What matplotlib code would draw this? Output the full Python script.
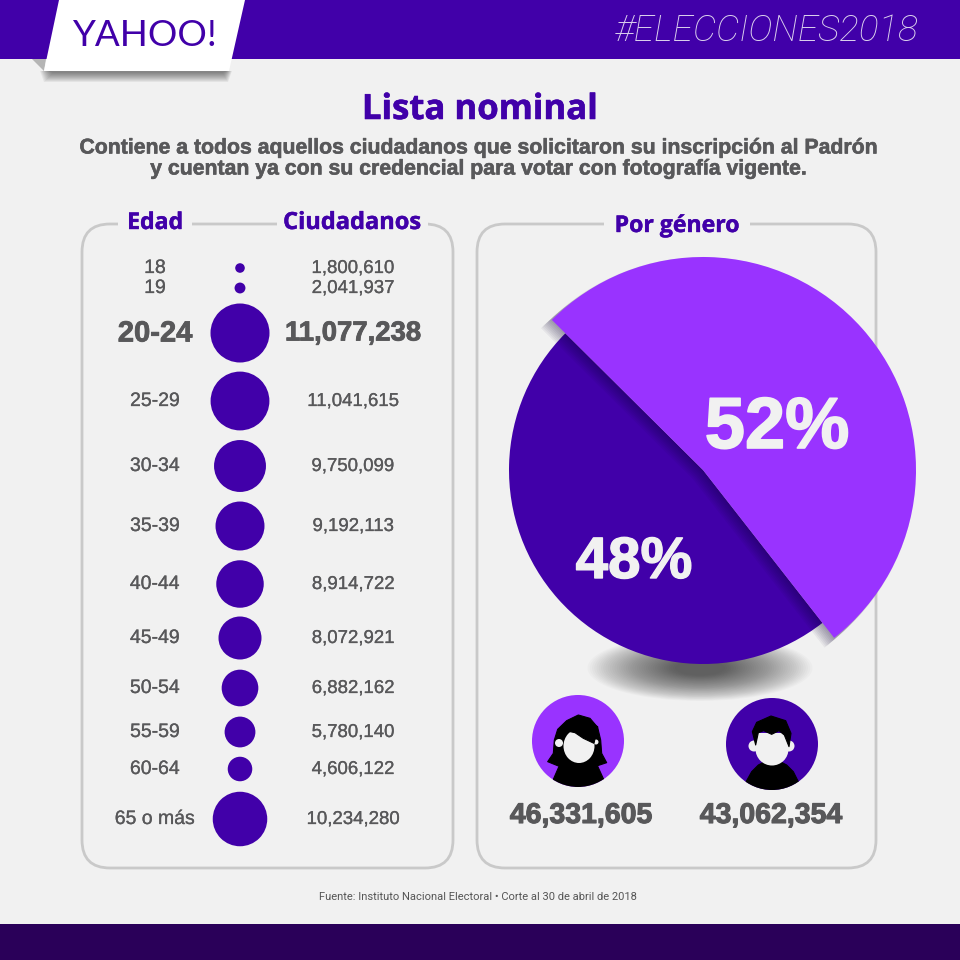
from matplotlib import pyplot as plt
from matplotlib import patheffects as pe
from matplotlib.patches import Circle, Ellipse, FancyBboxPatch, Polygon, Rectangle, Wedge
import math

PURPLE = '#4100a9'
LILAC = '#9933ff'
GRAY = '#58585a'
BG = '#f1f1f1'
SANS = 'Liberation Sans'

# data
edades = ['18', '19', '20-24', '25-29', '30-34', '35-39', '40-44', '45-49',
          '50-54', '55-59', '60-64', '65 o más']
ciudadanos = [1800610, 2041937, 11077238, 11041615, 9750099, 9192113, 8914722,
              8072921, 6882162, 5780140, 4606122, 10234280]
genero_labels = ['52%', '48%']
genero_pct = [52, 48]
genero_total = [46331605, 43062354]

fila_y = [268, 288, 333, 401, 466, 526, 584, 638, 688, 732, 769, 819]

fig = plt.figure(figsize=(9.6, 9.6), dpi=100, facecolor=BG)
ax = fig.add_axes([0, 0, 1, 1])
ax.set_xlim(0, 960)
ax.set_ylim(960, 0)
ax.axis('off')


def texto(x, y, s, size, color=GRAY, weight='bold', ha='center', grueso=0, **kw):
    kw.setdefault('family', SANS)
    t = ax.text(x, y, s, fontsize=size, color=color, fontweight=weight,
                ha=ha, va='center', **kw)
    if grueso:
        t.set_path_effects([pe.withStroke(linewidth=grueso, foreground=color)])
    return t


def sombra(cx, cy, w, h, pasos=40, alpha=0.02, z=1):
    for i in range(pasos):
        k = 1 - i / pasos * 0.8
        ax.add_patch(Ellipse((cx, cy), w * k, h * k, fc='black', ec='none', alpha=alpha, zorder=z))


def icono(puntos, x0=525, y0=690, **kw):
    # outlines were traced on a 3x crop of the icons
    pts = [(x0 + a / 3, y0 + b / 3) for a, b in puntos]
    p = Polygon(pts, fc='black', ec='black', lw=0.8, joinstyle='round', **kw)
    ax.add_patch(p)
    return p


# header and footer
for i in range(10):
    ax.add_patch(Polygon([(40 + i, 71), (232 - i * 0.6, 71), (228 - i * 0.6, 82 - i), (44 + i, 82 - i)],
                         fc='black', ec='none', alpha=0.055, zorder=1))
ax.add_patch(Rectangle((0, 0), 960, 59, fc=PURPLE, ec='none', zorder=2))
ax.add_patch(Rectangle((0, 924), 960, 36, fc='#2a0059', ec='none', zorder=2))
ax.add_patch(Polygon([(32, 59), (46, 59), (44, 71)], fc='#b5b5b5', ec='none', zorder=3))
ax.add_patch(Polygon([(59, 0), (245, 0), (229, 71), (44, 71)], fc='white', ec='none', zorder=4))
texto(144, 36, 'YAHOO!', 26.5, color=PURPLE, weight='normal', zorder=5, family='Lato')
texto(918, 31, '#ELECCIONES2018', 26.6, color='#dcd2ee', weight='light', ha='right', style='italic',
      family='Roboto', zorder=5)

# title
texto(480, 110, 'Lista nominal', 25, color=PURPLE, family='Open Sans', grueso=0.4)
texto(480, 148, 'Contiene a todos aquellos ciudadanos que solicitaron su inscripción al Padrón', 15.3, grueso=0.4)
texto(480, 169, 'y cuentan ya con su credencial para votar con fotografía vigente.', 15.3, grueso=0.4)

# panels
for x0, x1 in [(82, 453), (477, 876)]:
    ax.add_patch(FancyBboxPatch((x0 + 28, 224 + 28), x1 - x0 - 56, 644 - 56,
                                boxstyle='round,pad=28,rounding_size=28',
                                fc='none', ec='#c9c9c9', lw=2, zorder=1))
for x0, x1 in [(118, 192), (277, 428), (604, 750)]:
    ax.add_patch(Rectangle((x0, 215), x1 - x0, 18, fc=BG, ec='none', zorder=1.5))

texto(155, 223, 'Edad', 16.6, color=PURPLE, family='Open Sans', grueso=0.3)
texto(352, 223, 'Ciudadanos', 17, color=PURPLE, family='Open Sans', grueso=0.3)
texto(677, 226, 'Por género', 16.6, color=PURPLE, family='Open Sans', grueso=0.3)

# age rows
escala = 29.5 / max(ciudadanos)
for edad, valor, y in zip(edades, ciudadanos, fila_y):
    grande = edad == '20-24'
    ax.add_patch(Circle((240, y), valor * escala, fc=PURPLE, ec='none', zorder=3))
    texto(155, y + 0.5, edad, 21 if grande else 14, weight='bold' if grande else 'normal',
          grueso=0.6 if grande else 0.2)
    texto(353, y + 0.5, f'{valor:,}', 19.8 if grande else 13.4, weight='bold' if grande else 'normal',
          grueso=0.6 if grande else 0.2)

# pie
sombra(700, 668, 225, 66, z=1)
pie_ax = fig.add_axes([(703 - 213) / 960, 1 - (470 + 213) / 960, 426 / 960, 426 / 960])
pie_ax.set_zorder(2)
pie_ax.patch.set_alpha(0)
wedges, _ = pie_ax.pie(genero_pct, colors=[LILAC, PURPLE], startangle=-52, radius=1, frame=True)
pie_ax.set_xlim(-213, 213)
pie_ax.set_ylim(-213, 213)
pie_ax.axis('off')
wedges[0].set_radius(213)
wedges[1].set_radius(194)
wedges[1].set_zorder(1)
wedges[0].set_zorder(3)
# shadow of the lilac slice: same slice pushed towards the dark one
a0, a1 = wedges[0].theta1, wedges[0].theta2
bis = math.radians((a0 + a1) / 2)
for i in range(1, 9):
    d = i * 1.7
    s = Wedge((-d * math.cos(bis), -d * math.sin(bis)), 214, a0, a1, fc='#0a0030', ec='none', alpha=0.05,
              zorder=2, clip_on=False)
    pie_ax.add_patch(s)

pie_ax.text(74, 41, genero_labels[0], fontsize=52, color=BG, fontweight='bold', ha='center', va='center',
            family=SANS, zorder=4, path_effects=[pe.withStroke(linewidth=1.2, foreground=BG)])
pie_ax.text(-69, -93, genero_labels[1], fontsize=42, color=BG, fontweight='bold', ha='center', va='center',
            family=SANS, zorder=4, path_effects=[pe.withStroke(linewidth=1, foreground=BG)])

# women / men icons
c_m = Circle((578, 741), 46, fc=LILAC, ec='none', zorder=3)
ax.add_patch(c_m)
icono([(68, 215), (85, 190), (88, 150), (98, 118), (125, 92), (160, 75), (195, 85), (218, 112), (227, 150),
       (230, 190), (245, 218), (215, 228), (100, 228)], zorder=4)
cuerpo = icono([(85, 268), (105, 222), (215, 222), (236, 268), (236, 300), (85, 300)], zorder=4)
cuerpo.set_clip_path(c_m)
ax.add_patch(Ellipse((579, 746), 31, 34, fc=BG, ec='none', zorder=5))
ax.add_patch(Circle((559, 743), 4, fc=BG, ec='none', zorder=5))
ax.add_patch(Circle((596, 742), 2.5, fc=BG, ec='none', zorder=5))
icono([(112, 120), (150, 128), (175, 145), (207, 160), (218, 110), (170, 88), (125, 100)], zorder=6)

c_h = Circle((772, 744), 46, fc=PURPLE, ec='none', zorder=3)
ax.add_patch(c_h)
cuerpo2 = icono([(655, 290), (680, 245), (700, 225), (725, 212), (760, 212), (785, 225), (805, 245), (825, 285),
                 (810, 305), (670, 305)], zorder=4)
cuerpo2.set_clip_path(c_h)
ax.add_patch(Circle((754, 746), 5.5, fc=BG, ec='none', zorder=5))
ax.add_patch(Circle((789, 746), 5.5, fc=BG, ec='none', zorder=5))
ax.add_patch(Ellipse((772, 749), 33, 33, fc=BG, ec='none', zorder=5))
ax.add_patch(Rectangle((757, 733), 30, 15, fc=BG, ec='none', zorder=5))
icono([(692, 165), (682, 125), (695, 97), (738, 78), (782, 92), (798, 130), (792, 170), (778, 135), (762, 122),
       (740, 133), (716, 122), (700, 128)], zorder=6)

texto(581, 816, f'{genero_total[0]:,}', 20.5, grueso=0.8)
texto(771, 816, f'{genero_total[1]:,}', 20.5, grueso=0.8)

texto(478, 897, 'Fuente: Instituto Nacional Electoral • Corte al 30 de abril de 2018', 8, weight='normal',
      family='Roboto', color='#555555')

fig.savefig('out.png', dpi=100, facecolor=BG)
